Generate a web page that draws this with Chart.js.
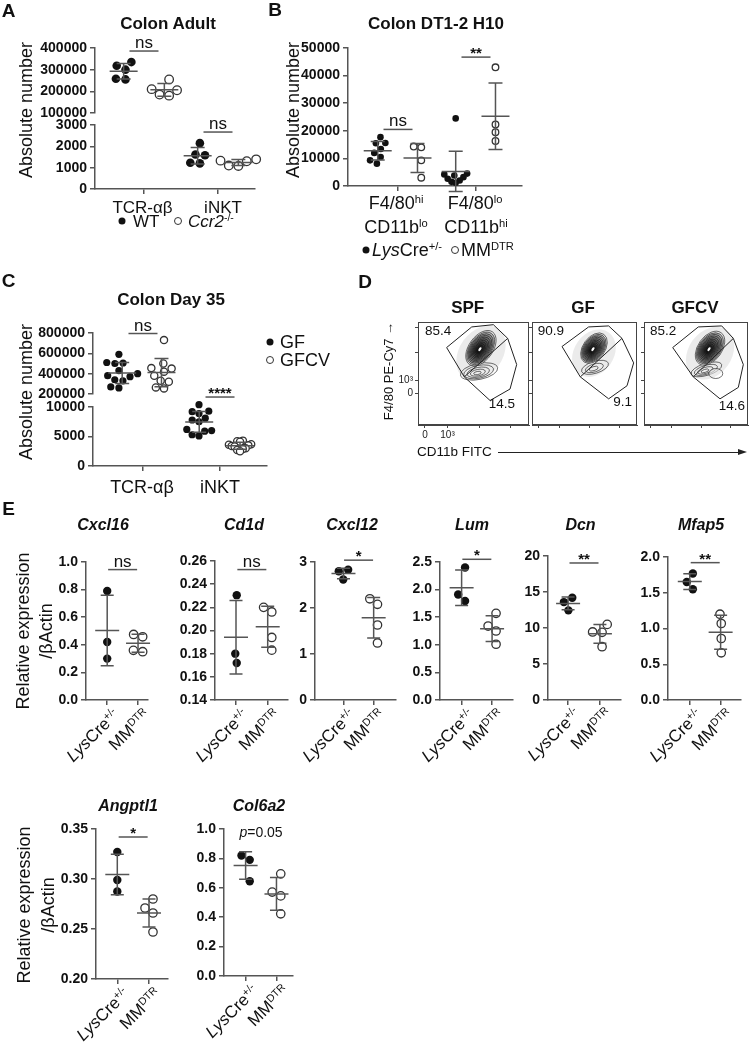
<!DOCTYPE html>
<html>
<head>
<meta charset="utf-8">
<title>Colon figure</title>
<script src="https://cdn.jsdelivr.net/npm/chart.js@4.4.1/dist/chart.umd.min.js"></script>
<style>
  body { margin: 0; width: 749px; height: 1050px; position: relative; overflow: hidden; background: #fff;
         font-family: "Liberation Sans", Arial, Helvetica, sans-serif; color: #111; }
  canvas { position: absolute; }
  .t { position: absolute; white-space: nowrap; line-height: 1; }
  .cc { transform: translate(-50%, -50%); }
  .lc { transform: translate(0, -50%); }
  .rc { transform: translate(-100%, -50%); }
  .vt { transform: translate(-50%, -50%) rotate(-90deg); text-align: center; }
  .rl { position: absolute; white-space: nowrap; line-height: 1; font-size: 17px; transform-origin: 100% 0; transform: rotate(-45deg); }
  sup { font-size: 62%; line-height: 0; vertical-align: 0.55em; }
  .dot { position: absolute; width: 7px; height: 7px; border-radius: 50%; background: #111; transform: translate(-50%, -50%); }
  .odot { position: absolute; width: 6px; height: 6px; border-radius: 50%; border: 1px solid #333; background: #fff; transform: translate(-50%, -50%); }
</style>
</head>
<body>
<script>
const FONT = '"Liberation Sans", Arial, Helvetica, sans-serif';
const INK = '#111', AX = '#555';
Chart.defaults.font.family = FONT;
Chart.defaults.color = INK;

// ---------- data ----------
// A  colon adult
const aCats = ['TCR-αβ', 'iNKT'];
const aWtTcr = [335000, 318000, 300000, 258000, 255000];
const aKoTcr = [255000, 210000, 205000, 185000, 180000];
const aWtInkt = [2150, 1620, 1580, 1230, 1200];
const aKoInkt = [1390, 1330, 1300, 1100, 1080];
const aTopTicks = [100000, 200000, 300000, 400000];
const aLowTicks = [0, 1000, 2000, 3000];
const aSig = ['ns', 'ns'];

// B  colon DT1-2 H10
const bCtlHi = [17700, 15600, 15500, 13400, 12000, 10500, 9300, 8100];
const bDtrHi = [14300, 14000, 9300, 3000];
const bCtlLo = [24500, 4500, 4200, 3800, 3200, 2600, 2000, 1500, 1200];
const bDtrLo = [43000, 22300, 19500, 16300];
const bTicks = [0, 10000, 20000, 30000, 40000, 50000];
const bSig = ['ns', '**'];

// C  colon day 35
const cCats = ['TCR-αβ', 'iNKT'];
const cGfTcr = [590000, 510000, 505000, 500000, 430000, 400000, 380000, 370000, 340000, 330000, 270000, 260000];
const cCvTcr = [730000, 500000, 455000, 450000, 420000, 380000, 330000, 320000, 265000, 255000];
const cGfInkt = [10400, 9300, 9200, 8900, 8100, 7800, 7500, 6200, 6000, 5900, 5300, 5100];
const cCvInkt = [4300, 4200, 4100, 3700, 3600, 3500, 3400, 3300, 3000, 2900, 2700, 2500];
const cTopTicks = [200000, 400000, 600000, 800000];
const cLowTicks = [0, 5000, 10000];
const cSig = ['ns', '****'];

// D  flow
const dGroups = ['SPF', 'GF', 'GFCV'];
const dUpper = [85.4, 90.9, 85.2];
const dLower = [14.5, 9.1, 14.6];
const dXTicks = [0.063, 0.266, 0.55, 0.83];
const dXLabels = ['0', '10³', '', ''];
const dYTicks = [0.305, 0.43, 0.7, 0.95];
const dYLabels = ['0', '10³', '', ''];
const dGateSPF = [[0.258, 0.752], [0.484, 0.952], [0.679, 0.974], [0.808, 0.841], [0.889, 0.587], [0.829, 0.349], [0.649, 0.238], [0.417, 0.467]];
const dGateGF = [[0.286, 0.762], [0.539, 0.952], [0.730, 0.962], [0.857, 0.841], [0.968, 0.603], [0.905, 0.381], [0.730, 0.254], [0.460, 0.467]];
const dGateCV = [[0.276, 0.752], [0.522, 0.952], [0.747, 0.962], [0.859, 0.841], [0.955, 0.587], [0.907, 0.365], [0.731, 0.254], [0.474, 0.467]];

// E  qPCR
const eGenes = ['Cxcl16', 'Cd1d', 'Cxcl12', 'Lum', 'Dcn', 'Mfap5', 'Angptl1', 'Col6a2'];
const eCtl = [[0.79, 0.42, 0.30], [0.2305, 0.18, 0.172], [2.83, 2.80, 2.62], [2.40, 1.91, 1.795],
              [14.2, 13.6, 12.45], [1.77, 1.65, 1.55], [0.327, 0.299, 0.2875], [0.82, 0.79, 0.645]];
const eDtr = [[0.475, 0.458, 0.36, 0.35], [0.22, 0.216, 0.194, 0.183], [2.2, 2.08, 1.63, 1.24], [1.57, 1.34, 1.25, 1.01],
              [10.5, 9.45, 9.4, 7.4], [1.2, 1.07, 0.86, 0.66], [0.28, 0.271, 0.266, 0.247], [0.695, 0.571, 0.545, 0.423]];
const eTicks = [[0, 0.2, 0.4, 0.6, 0.8, 1.0], [0.14, 0.16, 0.18, 0.20, 0.22, 0.24, 0.26], [0, 1, 2, 3],
                [0, 0.5, 1.0, 1.5, 2.0, 2.5], [0, 5, 10, 15, 20], [0, 0.5, 1.0, 1.5, 2.0],
                [0.20, 0.25, 0.30, 0.35], [0, 0.2, 0.4, 0.6, 0.8, 1.0]];
const eDec = [1, 2, 0, 1, 0, 1, 2, 1];
const eSig = ['ns', 'ns', '*', '*', '**', '**', '*', 'p=0.05'];

// ---------- layout ----------
const eBox = [
  {l: 86, r: 148.3, t: 561.7, b: 700, t1: 107.3, t2: 138.3, tx: 103, sy: 0.945},
  {l: 215, r: 288, t: 560.7, b: 700, t1: 236, t2: 267.7, tx: 244, sy: 0.2526},
  {l: 315, r: 395.5, t: 561.7, b: 700, t1: 343.3, t2: 373.3, tx: 352, sy: 3.04},
  {l: 440, r: 513.3, t: 561.7, b: 700, t1: 461.7, t2: 492.3, tx: 472, sy: 2.549},
  {l: 548.3, r: 621, t: 555.7, b: 699.3, t1: 568.3, t2: 600, tx: 580.5, sy: 19.03},
  {l: 668.3, r: 741, t: 556.7, b: 700, t1: 690, t2: 720.7, tx: 701, sy: 1.921},
  {l: 96, r: 168, t: 829.3, b: 979, t1: 117.3, t2: 149, tx: 128, sy: 0.342},
  {l: 224, r: 293.3, t: 829.3, b: 976, t1: 245.7, t2: 276.7, tx: 259, sy: 0.977}
];
const dBox = [{l: 418, r: 529}, {l: 531.7, r: 636.7}, {l: 644, r: 748}];
// [cx, cy, rx, ry, rotation, rings, filled]
const dBlobs = [
  [[0.55, 0.52, 19, 8, -0.2, 5, 0], [0.567, 0.746, 20, 12, -0.95, 12, 1]],
  [[0.6, 0.56, 14, 6, -0.3, 3, 0], [0.59, 0.746, 17, 11, -0.95, 12, 1]],
  [[0.6, 0.54, 16, 6, -0.3, 4, 0], [0.69, 0.5, 7, 5, 0, 1, 0], [0.635, 0.746, 19, 12, -0.95, 12, 1]]
];

// ---------- helpers ----------
function mkCanvas(x, y, w, h) {
  const cv = document.createElement('canvas');
  cv.width = Math.round(w); cv.height = Math.round(h);
  cv.style.left = x + 'px'; cv.style.top = y + 'px';
  document.body.appendChild(cv);
  return cv;
}
function txt(html, x, y, cls, css) {
  const d = document.createElement('div');
  d.className = 't ' + cls;
  d.innerHTML = html;
  d.style.left = x + 'px'; d.style.top = y + 'px';
  if (css) d.style.cssText += css;
  document.body.appendChild(d);
  return d;
}
function rotLabel(html, x, y) {
  const d = document.createElement('div');
  d.className = 'rl';
  d.innerHTML = html;
  d.style.right = (749 - x) + 'px'; d.style.top = y + 'px';
  document.body.appendChild(d);
}
function dot(x, y, open) {
  const d = document.createElement('div');
  d.className = open ? 'odot' : 'dot';
  d.style.left = x + 'px'; d.style.top = y + 'px';
  document.body.appendChild(d);
}

// simple beeswarm: px offsets so circles of diameter D don't overlap (lowest value placed first)
function swarm(vals, pxY, D) {
  const idx = vals.map((v, i) => i).sort((a, b) => vals[a] - vals[b]);
  const placed = [], off = [];
  idx.forEach(i => {
    const y = vals[i] * pxY;
    const iv = [];
    placed.forEach(p => {
      const dy = Math.abs(p.y - y);
      if (dy < D) { const w = Math.sqrt(D * D - dy * dy); iv.push([p.x - w, p.x + w]); }
    });
    const cands = [0];
    iv.forEach(s => cands.push(s[0], s[1]));
    const ok = cands.filter(c => iv.every(s => c <= s[0] + 1e-6 || c >= s[1] - 1e-6));
    ok.sort((a, b) => Math.abs(a) - Math.abs(b) || a - b);
    off[i] = ok[0];
    placed.push({x: ok[0], y});
  });
  const mid = (Math.max(...off) + Math.min(...off)) / 2;
  return off.map(v => v - mid);
}

// mean +/- SD lines
const errPlugin = {
  id: 'err',
  afterDatasetsDraw(chart, args, o) {
    const {ctx, scales: {x, y}} = chart;
    chart.data.datasets.forEach(ds => {
      if (!ds.vals) return;
      const n = ds.vals.length;
      const m = ds.vals.reduce((s, v) => s + v, 0) / n;
      const sd = Math.sqrt(ds.vals.reduce((s, v) => s + (v - m) * (v - m), 0) / (n - 1));
      const cx = x.getPixelForValue(ds.grp);
      const pm = y.getPixelForValue(m), pt = y.getPixelForValue(m + sd), pb = y.getPixelForValue(m - sd);
      ctx.save();
      ctx.strokeStyle = AX; ctx.lineWidth = 1.5;
      ctx.beginPath();
      ctx.moveTo(cx - o.mw, pm); ctx.lineTo(cx + o.mw, pm);
      ctx.moveTo(cx, pt); ctx.lineTo(cx, pb);
      ctx.moveTo(cx - o.cw, pt); ctx.lineTo(cx + o.cw, pt);
      ctx.moveTo(cx - o.cw, pb); ctx.lineTo(cx + o.cw, pb);
      ctx.stroke();
      ctx.restore();
    });
  }
};

// significance bars
const sigPlugin = {
  id: 'sig',
  afterDatasetsDraw(chart, args, o) {
    const {ctx, scales: {x, y}} = chart;
    (o.items || []).forEach(it => {
      const cx = x.getPixelForValue(it.x), py = y.getPixelForValue(it.y);
      ctx.save();
      ctx.fillStyle = INK; ctx.strokeStyle = AX; ctx.lineWidth = 1.5;
      ctx.textBaseline = 'alphabetic';
      if (it.text.indexOf('p=') === 0) {
        ctx.font = 'italic 14px ' + FONT;
        const wp = ctx.measureText('p').width;
        ctx.font = '14px ' + FONT;
        const wr = ctx.measureText(it.text.slice(1)).width;
        const sx = cx - (wp + wr) / 2;
        ctx.textAlign = 'left';
        ctx.font = 'italic 14px ' + FONT; ctx.fillText('p', sx, py + 5);
        ctx.font = '14px ' + FONT; ctx.fillText(it.text.slice(1), sx + wp, py + 5);
      } else {
        ctx.beginPath(); ctx.moveTo(cx - o.half, py); ctx.lineTo(cx + o.half, py); ctx.stroke();
        ctx.textAlign = 'center';
        if (it.text === 'ns') { ctx.font = '17px ' + FONT; ctx.fillText('ns', cx, py - 3); }
        else { ctx.font = 'bold 15px ' + FONT; ctx.fillText(it.text, cx, py + 1); }
      }
      ctx.restore();
    });
  }
};

// contour blobs + frame for the flow plots
const flowPlugin = {
  id: 'flow',
  beforeDatasetsDraw(chart, args, o) {
    const {ctx, chartArea: a, scales: {x, y}} = chart;
    ctx.save();
    ctx.beginPath(); ctx.rect(a.left, a.top, a.right - a.left, a.bottom - a.top); ctx.clip();
    o.blobs.forEach(bl => {
      const px = x.getPixelForValue(bl[0]), py = y.getPixelForValue(bl[1]);
      const rx = bl[2], ry = bl[3], rot = bl[4], n = bl[5], dark = bl[6];
      if (dark) {
        ctx.fillStyle = 'rgba(0,0,0,0.08)';
        ctx.beginPath(); ctx.ellipse(px, py + 5, rx * 1.5, ry * 1.8, rot, 0, 2 * Math.PI); ctx.fill();
      }
      ctx.strokeStyle = '#111'; ctx.lineWidth = 0.6;
      for (let k = n; k >= 1; k--) {
        const f = k / n;
        ctx.beginPath();
        ctx.ellipse(px - (1 - f) * 2, py + (1 - f) * 2, rx * f, ry * f, rot, 0, 2 * Math.PI);
        if (dark) {
          const g = Math.round(225 - 215 * Math.pow((n - k) / (n - 1), 0.6));
          ctx.fillStyle = 'rgb(' + g + ',' + g + ',' + g + ')';
          ctx.fill();
        } else {
          ctx.fillStyle = 'rgba(255,255,255,0.6)';
          ctx.fill();
        }
        ctx.stroke();
      }
      if (dark) {
        ctx.fillStyle = '#fff';
        ctx.beginPath(); ctx.ellipse(px - 1, py + 1, 2.2, 1.2, rot, 0, 2 * Math.PI); ctx.fill();
      }
    });
    ctx.restore();
    ctx.save();
    ctx.strokeStyle = '#444'; ctx.lineWidth = 1;
    ctx.strokeRect(a.left + 0.5, a.top + 0.5, a.right - a.left - 1, a.bottom - a.top - 1);
    ctx.restore();
  }
};

function axisStyle(extra) {
  return Object.assign({
    grid: {drawOnChartArea: false, drawTicks: true, tickLength: 5, color: AX, lineWidth: 1.5},
    border: {display: true, color: AX, width: 1.5}
  }, extra);
}

function dotPlot(o) {
  const mL = 90, mT = 45, mR = 25, mB = 22, YW = 80;
  const XH = o.showX === false ? 0 : 10;
  const cv = mkCanvas(o.l - mL, o.t - mT, o.r - o.l + mL + mR, o.b - o.t + mT + mB);
  const ymin = o.yt[0], ymax = o.yt[o.yt.length - 1];
  const pxY = (o.b - o.t) / (ymax - ymin), pxX = (o.r - o.l) / (o.xmax - o.xmin);
  const datasets = o.groups.map(g => {
    const off = swarm(g.vals, pxY, 2 * o.pr + 1);
    const sq = g.sq || 1;
    return {
      data: g.vals.map((v, i) => ({x: g.x + sq * off[i] / pxX, y: v})),
      vals: g.vals, grp: g.x,
      pointRadius: o.pr,
      pointBackgroundColor: g.open ? '#fff' : INK,
      pointBorderColor: g.open ? '#333' : INK,
      pointBorderWidth: g.open ? 1.3 : 0,
      showLine: false, clip: false
    };
  });
  new Chart(cv, {
    type: 'scatter',
    data: {datasets},
    options: {
      responsive: false, maintainAspectRatio: false, animation: false, events: [],
      layout: {padding: {left: mL - YW, top: mT, right: mR, bottom: mB - XH}},
      plugins: {legend: {display: false}, tooltip: {enabled: false},
                err: {mw: o.mw, cw: o.cw}, sig: {items: o.sig || [], half: 14.5}},
      scales: {
        x: axisStyle({
          type: 'linear', display: o.showX !== false, min: o.xmin, max: o.xmax,
          afterBuildTicks: s => { s.ticks = o.xt.map(v => ({value: v})); },
          ticks: {callback: () => '', autoSkip: false, padding: 0},
          afterFit: s => { s.height = XH; }
        }),
        y: axisStyle({
          type: 'linear', min: ymin, max: ymax,
          afterBuildTicks: s => { s.ticks = o.yt.map(v => ({value: v})); },
          ticks: {callback: v => o.fmt(v), autoSkip: false, padding: 3,
                  font: {family: FONT, size: 14, weight: 'bold'}, color: INK},
          afterFit: s => { s.width = YW; }
        })
      }
    },
    plugins: [errPlugin, sigPlugin]
  });
}

function flowPlot(i) {
  const l = dBox[i].l, r = dBox[i].r, t = 320, b = 425;
  const mL = 40, mT = 6, mR = 4, mB = 20, YW = 30, XH = 16;
  const cv = mkCanvas(l - mL, t - mT, r - l + mL + mR, b - t + mT + mB);
  const gate = [dGateSPF, dGateGF, dGateCV][i];
  const line = pts => ({data: pts.map(p => ({x: p[0], y: p[1]})), showLine: true, borderColor: '#222',
                        borderWidth: 1, pointRadius: 0, tension: 0, clip: false});
  const small = {drawOnChartArea: false, drawTicks: true, tickLength: 3, color: '#444', lineWidth: 1};
  new Chart(cv, {
    type: 'scatter',
    data: {datasets: [line(gate.concat([gate[0]])), line([gate[7], gate[3]])]},
    options: {
      responsive: false, maintainAspectRatio: false, animation: false, events: [],
      layout: {padding: {left: mL - YW, top: mT, right: mR, bottom: mB - XH}},
      plugins: {legend: {display: false}, tooltip: {enabled: false}, flow: {blobs: dBlobs[i]}},
      scales: {
        x: {type: 'linear', min: 0, max: 1,
            afterBuildTicks: s => { s.ticks = dXTicks.map(v => ({value: v})); },
            ticks: {autoSkip: false, maxRotation: 0, padding: 1, color: '#222', font: {size: 10},
                    callback: (v, k) => i === 0 ? dXLabels[k] : ''},
            grid: small, border: {display: true, color: '#444', width: 1},
            afterFit: s => { s.height = XH; }},
        y: {type: 'linear', min: 0, max: 1,
            afterBuildTicks: s => { s.ticks = dYTicks.map(v => ({value: v})); },
            ticks: {autoSkip: false, padding: 2, color: '#222', font: {size: 10},
                    callback: (v, k) => i === 0 ? dYLabels[k] : ''},
            grid: small, border: {display: true, color: '#444', width: 1},
            afterFit: s => { s.width = YW; }}
      }
    },
    plugins: [flowPlugin]
  });
}

const fmtInt = v => String(v);

// ---------- panel A ----------
dotPlot({l: 95, r: 255, t: 48, b: 113, xmin: 0.338, xmax: 2.5, xt: [1, 2], yt: aTopTicks, fmt: fmtInt,
         showX: false, pr: 4.3, mw: 14, cw: 7,
         groups: [{x: 1 - 0.275, vals: aWtTcr}, {x: 1 + 0.275, vals: aKoTcr, open: true}],
         sig: [{x: 1, y: 386000, text: aSig[0]}]});
dotPlot({l: 95, r: 255, t: 125, b: 189, xmin: 0.338, xmax: 2.5, xt: [1, 2], yt: aLowTicks, fmt: fmtInt,
         pr: 4.3, mw: 14, cw: 7,
         groups: [{x: 2 - 0.275, vals: aWtInkt}, {x: 2 + 0.275, vals: aKoInkt, open: true}],
         sig: [{x: 2, y: 2670, text: aSig[1]}]});

// ---------- panel B ----------
dotPlot({l: 348, r: 522, t: 48, b: 186, xmin: 0.359, xmax: 2.59, xt: [1, 2], yt: bTicks, fmt: fmtInt,
         pr: 3.3, mw: 14, cw: 7,
         groups: [{x: 1 - 0.26, vals: bCtlHi}, {x: 1 + 0.25, vals: bDtrHi, open: true},
                  {x: 2 - 0.26, vals: bCtlLo, sq: 0.55}, {x: 2 + 0.25, vals: bDtrLo, open: true}],
         sig: [{x: 1, y: 20500, text: bSig[0]}, {x: 2, y: 46700, text: bSig[1]}]});

// ---------- panel C ----------
dotPlot({l: 93, r: 267, t: 332.7, b: 394, xmin: 0.351, xmax: 2.61, xt: [1, 2], yt: cTopTicks, fmt: fmtInt,
         showX: false, pr: 3.6, mw: 14, cw: 7,
         groups: [{x: 1 - 0.27, vals: cGfTcr}, {x: 1 + 0.24, vals: cCvTcr, open: true}],
         sig: [{x: 1, y: 795000, text: cSig[0]}]});
dotPlot({l: 93, r: 267, t: 406.7, b: 466, xmin: 0.351, xmax: 2.61, xt: [1, 2], yt: cLowTicks, fmt: fmtInt,
         pr: 3.6, mw: 14, cw: 7,
         groups: [{x: 2 - 0.27, vals: cGfInkt, sq: 0.85}, {x: 2 + 0.26, vals: cCvInkt, open: true, sq: 0.35}],
         sig: [{x: 2, y: 11690, text: cSig[1]}]});

// ---------- panel D ----------
dGroups.forEach((g, i) => flowPlot(i));

// ---------- panel E ----------
eGenes.forEach((g, i) => {
  const bx = eBox[i];
  const gap = bx.t2 - bx.t1;
  dotPlot({l: bx.l, r: bx.r, t: bx.t, b: bx.b,
           xmin: 1 - (bx.t1 - bx.l) / gap, xmax: 2 + (bx.r - bx.t2) / gap, xt: [1, 2],
           yt: eTicks[i], fmt: v => v.toFixed(eDec[i]), pr: 4.2, mw: 12, cw: 6.5,
           groups: [{x: 1, vals: eCtl[i]}, {x: 2, vals: eDtr[i], open: true}],
           sig: [{x: 1.5, y: bx.sy, text: eSig[i]}]});
  txt('<i>' + g + '</i>', bx.tx, i < 6 ? 525 : 806, 'cc', 'font-size:16px;font-weight:bold;');
  rotLabel('<i>Lys</i>Cre<sup>+/-</sup>', bx.t1 + 3, bx.b + 6);
  rotLabel('MM<sup>DTR</sup>', bx.t2 + 3, bx.b + 6);
});

// ---------- text ----------
const L = 'font-size:19px;font-weight:bold;';
txt('A', 8.5, 9.5, 'cc', L); txt('B', 275, 9, 'cc', L); txt('C', 8.5, 280, 'cc', L);
txt('D', 365, 281, 'cc', L); txt('E', 8.5, 508, 'cc', L);

const TT = 'font-size:17px;font-weight:bold;';
txt('Colon Adult', 168, 23, 'cc', TT);
txt('Colon DT1-2 H10', 436, 23, 'cc', TT);
txt('Colon Day 35', 171, 299, 'cc', TT);
dGroups.forEach((g, i) => txt(g, [467.7, 583, 695][i], 306.7, 'cc', TT));

const YT = 'font-size:18px;';
txt('Absolute number', 26, 110, 'vt', YT);
txt('Absolute number', 292.5, 110, 'vt', YT);
txt('Absolute number', 26, 391.5, 'vt', YT);
txt('Relative expression<br>/βActin', 35, 631, 'vt', YT + 'line-height:23px;');
txt('Relative expression<br>/βActin', 36, 905, 'vt', YT + 'line-height:24px;');

const XL = 'font-size:17px;';
const XL2 = 'font-size:18px;';
txt(aCats[0], 142.5, 206.5, 'cc', XL); txt(aCats[1], 223, 206.5, 'cc', XL);
dot(122, 221, false); txt('WT', 133, 221, 'lc', XL);
dot(178, 221, true); txt('<i>Ccr2</i><sup>-/-</sup>', 188, 221, 'lc', XL);

txt('F4/80<sup>hi</sup>', 396, 203, 'cc', XL2); txt('CD11b<sup>lo</sup>', 396, 227, 'cc', XL2);
txt('F4/80<sup>lo</sup>', 475, 203, 'cc', XL2); txt('CD11b<sup>hi</sup>', 476, 227, 'cc', XL2);
dot(366, 250, false); txt('<i>Lys</i>Cre<sup>+/-</sup>', 372, 250, 'lc', XL2);
dot(455, 250, true); txt('MM<sup>DTR</sup>', 461, 250, 'lc', XL2);

txt(cCats[0], 142, 487, 'cc', XL2); txt(cCats[1], 220, 487, 'cc', XL2);
dot(270, 342, false); txt('GF', 280, 342, 'lc', XL2);
dot(270, 360, true); txt('GFCV', 280, 360, 'lc', XL2);

const PC = 'font-size:13.5px;';
txt(dUpper[0].toFixed(1), 425, 330.7, 'lc', PC); txt(dLower[0].toFixed(1), 515, 404, 'rc', PC);
txt(dUpper[1].toFixed(1), 537.7, 330.7, 'lc', PC); txt(dLower[1].toFixed(1), 632, 402, 'rc', PC);
txt(dUpper[2].toFixed(1), 650, 331, 'lc', PC); txt(dLower[2].toFixed(1), 745, 406, 'rc', PC);
txt('F4/80 PE-Cy7 →', 388, 371, 'vt', 'font-size:13px;');
txt('CD11b FITC', 417, 452, 'lc', 'font-size:13.5px;');
txt('', 498, 452, '', 'width:242px;height:0;border-top:1.2px solid #222;');
txt('', 738, 448.5, '', 'width:0;height:0;border-left:9px solid #222;border-top:3.5px solid transparent;border-bottom:3.5px solid transparent;');
</script>
</body>
</html>
